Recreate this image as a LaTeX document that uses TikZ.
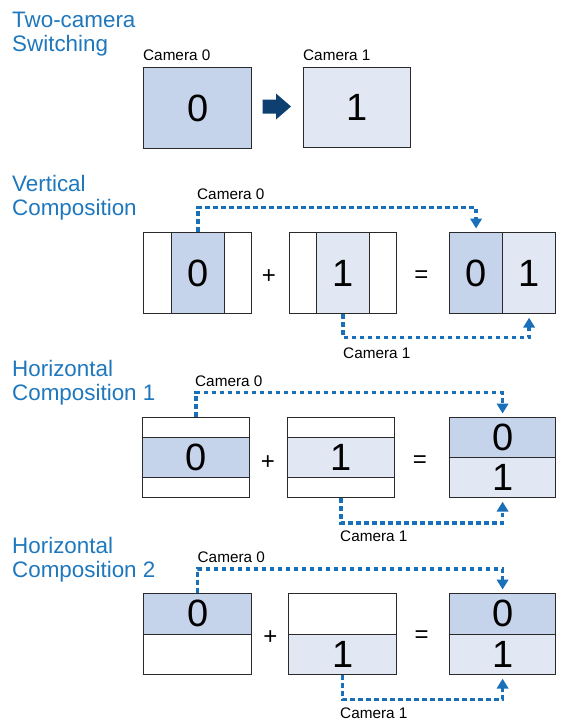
\documentclass[tikz,border=0pt]{standalone}
\usepackage{fontspec}
\setmainfont{Liberation Sans}
\usetikzlibrary{arrows.meta}
\definecolor{titleblue}{HTML}{1F78BD}
\definecolor{darkfill}{HTML}{C5D3EB}
\definecolor{lightfill}{HTML}{E1E8F4}
\definecolor{connblue}{HTML}{1A70B8}
\definecolor{arrowblue}{HTML}{0D3F70}
\definecolor{edgegray}{HTML}{2A2A2A}
\begin{document}
\begin{tikzpicture}[x=1pt,y=-1pt,
  title/.style={anchor=base west, inner sep=0, text=titleblue, font=\fontsize{22.4}{24}\selectfont},
  cam/.style={anchor=base west, inner sep=0, font=\fontsize{15.3}{17}\selectfont},
  cell/.style={draw=edgegray, line width=1.2pt, inner sep=0, anchor=north west, font=\fontsize{38}{40}\selectfont},
  op/.style={inner sep=0, font=\fontsize{24}{26}\selectfont},
  conn/.style={draw=connblue, line width=3.3pt, dash pattern=on 4.6pt off 3.4pt, -{Triangle[width=11.5pt,length=10pt]}, shorten >=3.5pt}
]
\fill[white] (0,0) rectangle (562,723);
\useasboundingbox (0,0) rectangle (562,723);

% ---------- Section 1 ----------
\node[title] (t1a) at (12,27.3) {Two-camera};
\node[title] (t1b) at (12,51.7) {Switching};
\node[cell, fill=darkfill, minimum width=108pt, minimum height=81pt] (s1a) at (143,67) {0};
\node[cell, fill=lightfill, minimum width=107pt, minimum height=80pt] (s1b) at (303,67) {1};
\node[cam] (s1la) at (143,60) {Camera 0};
\node[cam] (s1lb) at (303,60) {Camera 1};
\fill[arrowblue] (262.5,99.5) -- (276,99.5) -- (276,93.5) -- (291,106.5) -- (276,119.5) -- (276,113.5) -- (262.5,113.5) -- cycle;

% ---------- Section 2 ----------
\node[title] (t2a) at (12,191) {Vertical};
\node[title] (t2b) at (12,215.5) {Composition};
\node[cell, minimum width=108pt, minimum height=81pt] (vA) at (143,232) {};
\node[cell, fill=darkfill, minimum width=53.5pt, minimum height=81pt] (vA0) at (170.5,232) {0};
\node[cell, minimum width=107pt, minimum height=81pt] (vB) at (289,232) {};
\node[cell, fill=lightfill, minimum width=53pt, minimum height=81pt] (vB1) at (316,232) {1};
\node[cell, fill=darkfill, minimum width=53pt, minimum height=81pt] (vC0) at (449,232) {0};
\node[cell, fill=lightfill, minimum width=53pt, minimum height=81pt] (vC1) at (502,232) {1};
\node[op] (vplus) at (269,277) {+};
\node[op] (veq) at (421.5,277) {=};
\draw[conn] (vA0.north) -- ++(0,-24.5) -| (vC0.north);
\draw[conn] (vB1.south) -- ++(0,23.5) -| (vC1.south);
\node[cam] (vl0) at (197,199) {Camera 0};
\node[cam] (vl1) at (343,358) {Camera 1};

% ---------- Section 3 ----------
\node[title] (t3a) at (12,376) {Horizontal};
\node[title] (t3b) at (12,400.5) {Composition 1};
\node[cell, minimum width=107pt, minimum height=80pt] (hA) at (142,417) {};
\node[cell, fill=darkfill, minimum width=107pt, minimum height=40pt] (hA0) at (142,437) {0};
\node[cell, minimum width=107pt, minimum height=80pt] (hB) at (287,417) {};
\node[cell, fill=lightfill, minimum width=107pt, minimum height=40pt] (hB1) at (287,437) {1};
\node[cell, fill=darkfill, minimum width=106pt, minimum height=40pt] (hC0) at (449,417) {0};
\node[cell, fill=lightfill, minimum width=106pt, minimum height=40pt] (hC1) at (449,457) {1};
\node[op] (hplus) at (268,463) {+};
\node[op] (heq) at (420,461.5) {=};
\draw[conn] (hA.north) -- ++(0,-24.3) -| (hC0.north);
\draw[conn] (hB.south) -- ++(0,24.7) -| (hC1.south);
\node[cam] (hl0) at (195,386) {Camera 0};
\node[cam] (hl1) at (340,541.7) {Camera 1};

% ---------- Section 4 ----------
\node[title] (t4a) at (12,553.3) {Horizontal};
\node[title] (t4b) at (12,577.5) {Composition 2};
\node[cell, fill=darkfill, minimum width=108pt, minimum height=40.5pt] (gA0) at (143,593) {0};
\node[cell, minimum width=108pt, minimum height=40.5pt] (gA1) at (143,633.5) {};
\node[cell, minimum width=108pt, minimum height=40.5pt] (gB0) at (288,593) {};
\node[cell, fill=lightfill, minimum width=108pt, minimum height=40.5pt] (gB1) at (288,633.5) {1};
\node[cell, fill=darkfill, minimum width=106pt, minimum height=40.5pt] (gC0) at (449,593) {0};
\node[cell, fill=lightfill, minimum width=106pt, minimum height=40.5pt] (gC1) at (449,633.5) {1};
\node[op] (gplus) at (270.5,637.3) {+};
\node[op] (geq) at (421.7,637) {=};
\draw[conn] (gA0.north) -- ++(0,-24) -| (gC0.north);
\draw[conn] (gB1.south) -- ++(0,24.3) -| (gC1.south);
\node[cam] (gl0) at (197.5,562.3) {Camera 0};
\node[cam] (gl1) at (340,718.3) {Camera 1};
\end{tikzpicture}
\end{document}
